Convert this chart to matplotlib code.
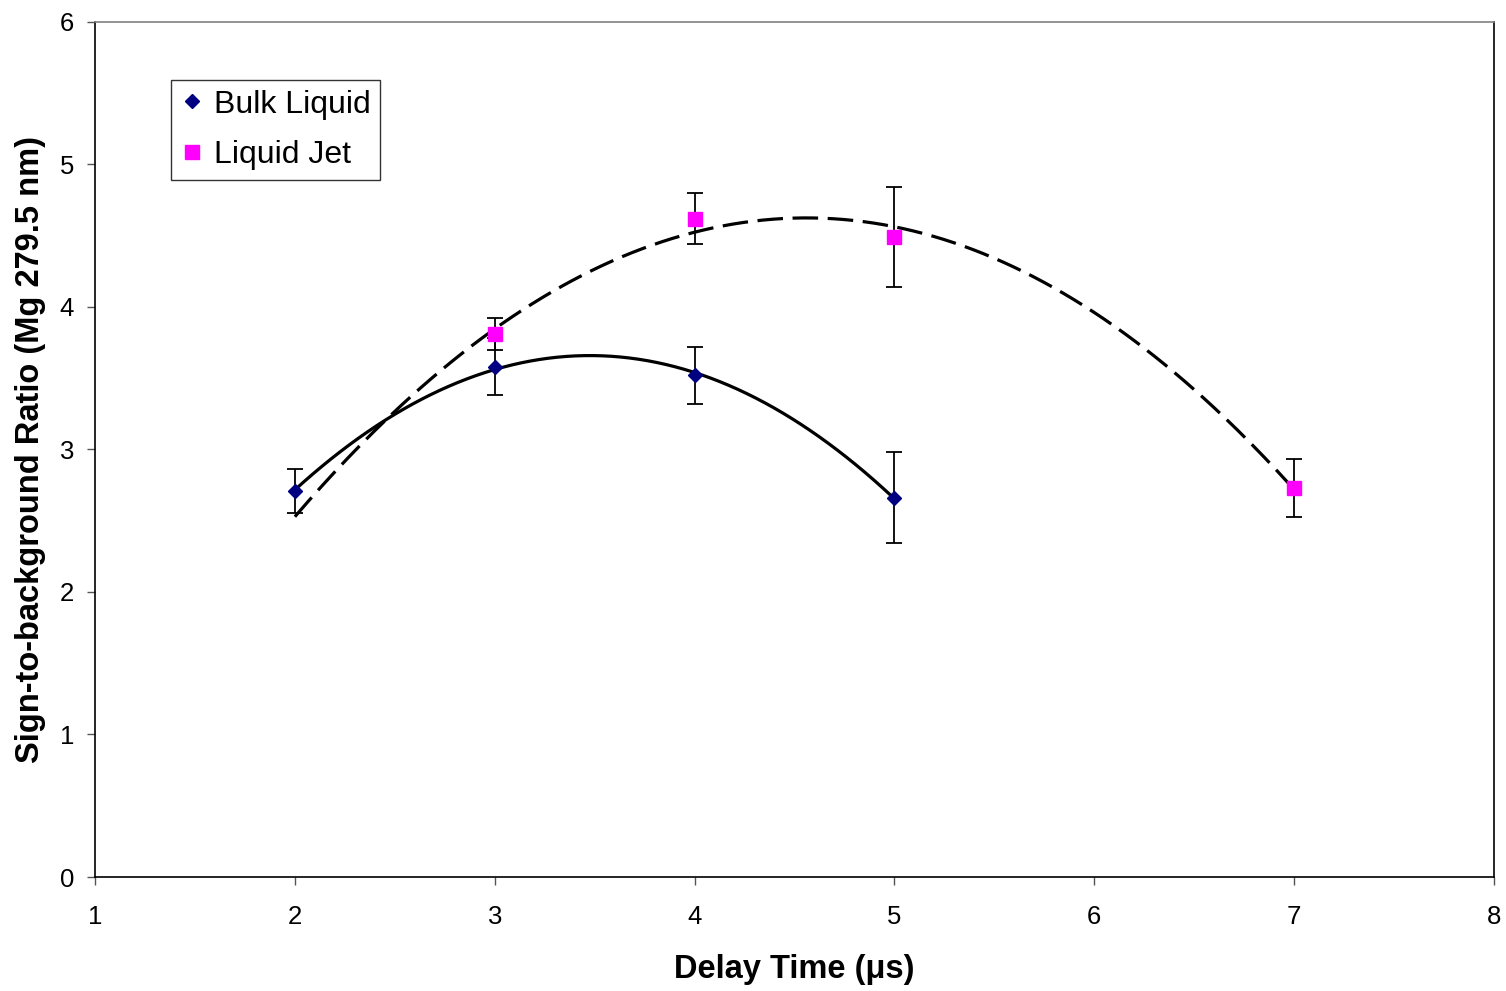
import matplotlib

matplotlib.use("Agg")
import matplotlib.pyplot as plt
from matplotlib.lines import Line2D
import numpy as np

plt.rcParams["font.family"] = ["Liberation Sans", "DejaVu Sans"]

# delay times (µs) and measured signal-to-background ratios
bulk_x = [2, 3, 4, 5]
bulk_y = [2.71, 3.58, 3.52, 2.66]
bulk_err = [0.155, 0.20, 0.20, 0.32]

jet_x = [3, 4, 5, 7]
jet_y = [3.81, 4.62, 4.49, 2.73]
jet_err = [0.115, 0.18, 0.35, 0.205]

fig = plt.figure(figsize=(15.06, 9.91), dpi=100)
ax = fig.add_axes([0.0631, 0.115, 0.929, 0.863])

# second-order polynomial trend lines
bulk_fit = np.polyfit(bulk_x, bulk_y, 2)
xs = np.linspace(2, 5, 200)
ax.plot(xs, np.polyval(bulk_fit, xs), color="black", lw=2.3, zorder=2)

jet_fit = np.polyfit(jet_x, jet_y, 2)
xs = np.linspace(2, 7, 300)
ax.plot(xs, np.polyval(jet_fit, xs), color="black", lw=2.3, dashes=(8, 3), zorder=2)

ax.errorbar(bulk_x, bulk_y, yerr=bulk_err, fmt="none", ecolor="black",
            elinewidth=1.3, capsize=6, capthick=1.3, zorder=3)
ax.errorbar(jet_x, jet_y, yerr=jet_err, fmt="none", ecolor="black",
            elinewidth=1.3, capsize=6, capthick=1.3, zorder=3)
ax.plot(bulk_x, bulk_y, ls="none", marker="D", ms=7.5, color="#000080", zorder=4)
ax.plot(jet_x, jet_y, ls="none", marker="s", ms=9.5, color="#FF00FF", zorder=4)

ax.set_xlim(1, 8)
ax.set_ylim(0, 6)
ax.set_xticks(range(1, 9))
ax.set_yticks(range(0, 7))
ax.tick_params(direction="out", length=6, width=1, colors="#555555",
               labelcolor="black", labelsize=18.5)
ax.tick_params(axis="x", pad=14)
ax.tick_params(axis="y", pad=9)
for side in ("left", "bottom", "right"):
    ax.spines[side].set_color("black")
    ax.spines[side].set_linewidth(1.2)
ax.spines["top"].set_color("#808080")
ax.spines["top"].set_linewidth(1.2)

ax.set_xlabel("Delay Time (\u03bcs)", fontsize=23.5, fontweight="bold", labelpad=18)
ax.set_ylabel("Sign-to-background Ratio (Mg 279.5 nm)", fontsize=23.5,
              fontweight="bold", labelpad=10)

handles = [
    Line2D([], [], ls="none", marker="D", ms=7.5, color="#000080"),
    Line2D([], [], ls="none", marker="s", ms=9.5, color="#FF00FF"),
]
leg = ax.legend(handles, ["Bulk Liquid", "Liquid Jet"], loc="upper left",
                bbox_to_anchor=(0.0543, 0.932), fontsize=23, frameon=True,
                fancybox=False, edgecolor="black", handlelength=0.7,
                handletextpad=0.35, borderpad=0.3, labelspacing=0.65,
                borderaxespad=0)
leg.get_frame().set_linewidth(1.0)

fig.savefig("out.png", dpi=100)
